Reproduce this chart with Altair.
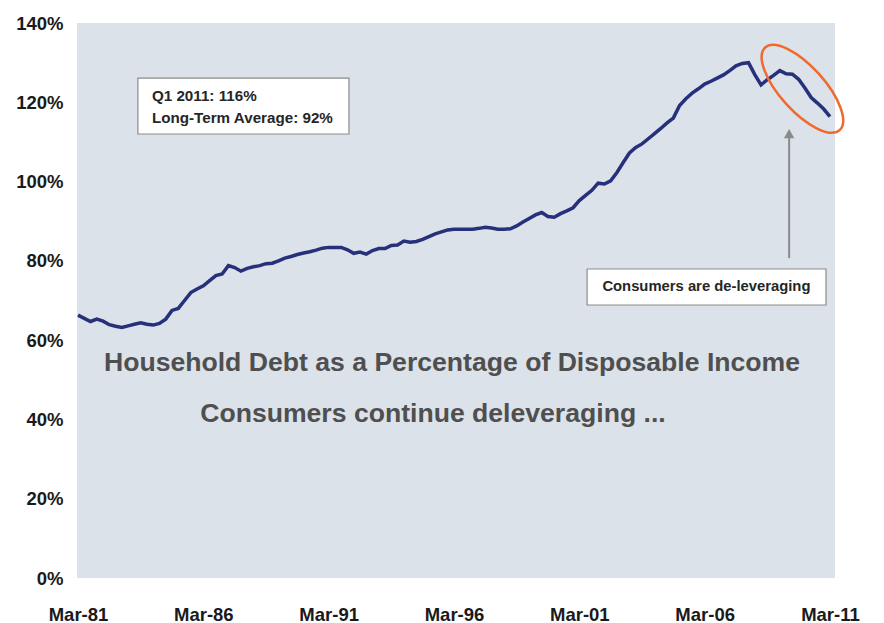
import altair as alt
import pandas as pd

# Quarterly household debt as % of disposable income, Q1 1981 .. Q1 2011
debt_pct = [
    66.3, 65.5, 64.7, 65.3, 64.8, 63.9, 63.5, 63.2, 63.6, 64.0,
    64.4, 64.0, 63.8, 64.2, 65.3, 67.5, 68.0, 70.0, 72.0, 72.9,
    73.7, 75.0, 76.3, 76.7, 78.8, 78.3, 77.4, 78.1, 78.5, 78.8,
    79.3, 79.4, 80.0, 80.7, 81.1, 81.6, 82.0, 82.3, 82.7, 83.2,
    83.4, 83.4, 83.4, 82.8, 81.9, 82.2, 81.7, 82.6, 83.1, 83.1,
    83.9, 84.0, 85.0, 84.7, 84.9, 85.4, 86.1, 86.8, 87.3, 87.8,
    88.0, 88.0, 88.0, 88.0, 88.2, 88.5, 88.3, 88.0, 88.0, 88.1,
    88.8, 89.8, 90.7, 91.6, 92.2, 91.2, 91.0, 91.9, 92.6, 93.4,
    95.2, 96.5, 97.8, 99.6, 99.4, 100.2, 102.3, 104.8, 107.2, 108.6,
    109.5, 110.8, 112.1, 113.4, 114.8, 116.0, 119.2, 120.9, 122.3, 123.4,
    124.6, 125.3, 126.1, 126.9, 128.0, 129.2, 129.8, 130.0, 127.0, 124.4,
    125.7, 126.8, 128.0, 127.2, 127.1, 125.8, 123.6, 121.2, 119.8, 118.3,
    116.4,
]
start_year = 1981
quarter_time = [start_year + i / 4 for i in range(len(debt_pct))]

x_ticks = [1981, 1986, 1991, 1996, 2001, 2006, 2011]
y_ticks = [0, 20, 40, 60, 80, 100, 120, 140]

# annotation content and anchor positions (in data units)
info_lines = ["Q1 2011: 116%", "Long-Term Average: 92%"]
info_x = [1983.95, 1983.95]
info_y = [121.6, 116.0]
info_box = {"x": [1983.39], "x2": [1991.81], "y": [126.1], "y2": [112.0]}

callout_text = ["Consumers are de-leveraging"]
callout_x = [2006.07]
callout_y = [73.4]
callout_box = {"x": [2001.31], "x2": [2010.84], "y": [77.95], "y2": [68.87]}

title_lines = ["Household Debt as a Percentage of Disposable Income",
               "Consumers continue deleveraging ..."]
title_x = [1995.92, 1995.16]
title_y = [54.2, 41.4]

arrow_x = [2009.37]
arrow_y = [80.7]
arrow_y2 = [112.0]
arrow_head_y = [112.1]

ellipse_x = [2009.90]
ellipse_y = [123.4]

FONT = "Liberation Sans"

df = pd.DataFrame({"t": quarter_time, "v": debt_pct})

xscale = alt.Scale(domain=[1980.96, 2011.2], nice=False, zero=False)
yscale = alt.Scale(domain=[0, 140], nice=False)

line = alt.Chart(df).mark_line(color="#27307a", strokeWidth=3.5).encode(
    x=alt.X("t:Q", scale=xscale, title=None,
            axis=alt.Axis(values=x_ticks, labelExpr="'Mar-' + slice(toString(datum.value), 2)",
                          ticks=False, domain=False, grid=False, labelPadding=27,
                          labelFontSize=18.5, labelFontWeight="bold", labelColor="#1a1a1a",
                          labelFont=FONT, labelFlush=False, labelOverlap=False)),
    y=alt.Y("v:Q", scale=yscale, title=None,
            axis=alt.Axis(values=y_ticks, labelExpr="datum.value + '%'",
                          ticks=False, domain=False, grid=False, labelPadding=14,
                          labelFontSize=18.5, labelFontWeight="bold", labelColor="#1a1a1a",
                          labelFont=FONT, labelFlush=False, labelOverlap=False)),
)

box_df = pd.DataFrame({k: info_box[k] + callout_box[k] for k in ["x", "x2", "y", "y2"]})
boxes = alt.Chart(box_df).mark_rect(fill="white", stroke="#8c8c8c", strokeWidth=1.2).encode(
    x="x:Q", x2="x2", y="y:Q", y2="y2"
)

info = alt.Chart(pd.DataFrame({"x": info_x, "y": info_y, "s": info_lines})).mark_text(
    align="left", baseline="middle", font=FONT, fontSize=15.2, fontWeight="bold", color="#262626"
).encode(x="x:Q", y="y:Q", text="s:N")

callout = alt.Chart(pd.DataFrame({"x": callout_x, "y": callout_y, "s": callout_text})).mark_text(
    align="center", baseline="middle", font=FONT, fontSize=14.8, fontWeight="bold", color="#262626"
).encode(x="x:Q", y="y:Q", text="s:N")

titles = alt.Chart(pd.DataFrame({"x": title_x, "y": title_y, "s": title_lines})).mark_text(
    align="center", baseline="middle", font=FONT, fontSize=26.6, fontWeight="bold", color="#4f4f4f"
).encode(x="x:Q", y="y:Q", text="s:N")

arrow = alt.Chart(pd.DataFrame({"x": arrow_x, "y": arrow_y, "y2": arrow_y2})).mark_rule(
    color="#8a8a8a", strokeWidth=2
).encode(x="x:Q", y="y:Q", y2="y2")

arrow_head = alt.Chart(pd.DataFrame({"x": arrow_x, "y": arrow_head_y})).mark_point(
    shape="triangle-up", filled=True, color="#8a8a8a", size=110, opacity=1
).encode(x="x:Q", y="y:Q")

ellipse = alt.Chart(pd.DataFrame({"x": ellipse_x, "y": ellipse_y})).mark_point(
    shape="M -1 0 A 1 0.4 0 1 1 1 0 A 1 0.4 0 1 1 -1 0 Z",
    filled=False, color="#ef6a2c", strokeWidth=2.5, size=12365, angle=48, opacity=1
).encode(x="x:Q", y="y:Q")

chart = alt.layer(line, boxes, info, callout, titles, arrow, arrow_head, ellipse).properties(
    width=758, height=555,
    padding={"left": 69, "top": 15, "right": 41, "bottom": 45},
    autosize=alt.AutoSizeParams(type="none"),
    background="white",
).configure_view(fill="#dce2e9", stroke=None)

chart.save("out.html", embed_options={"renderer": "svg", "actions": False})
